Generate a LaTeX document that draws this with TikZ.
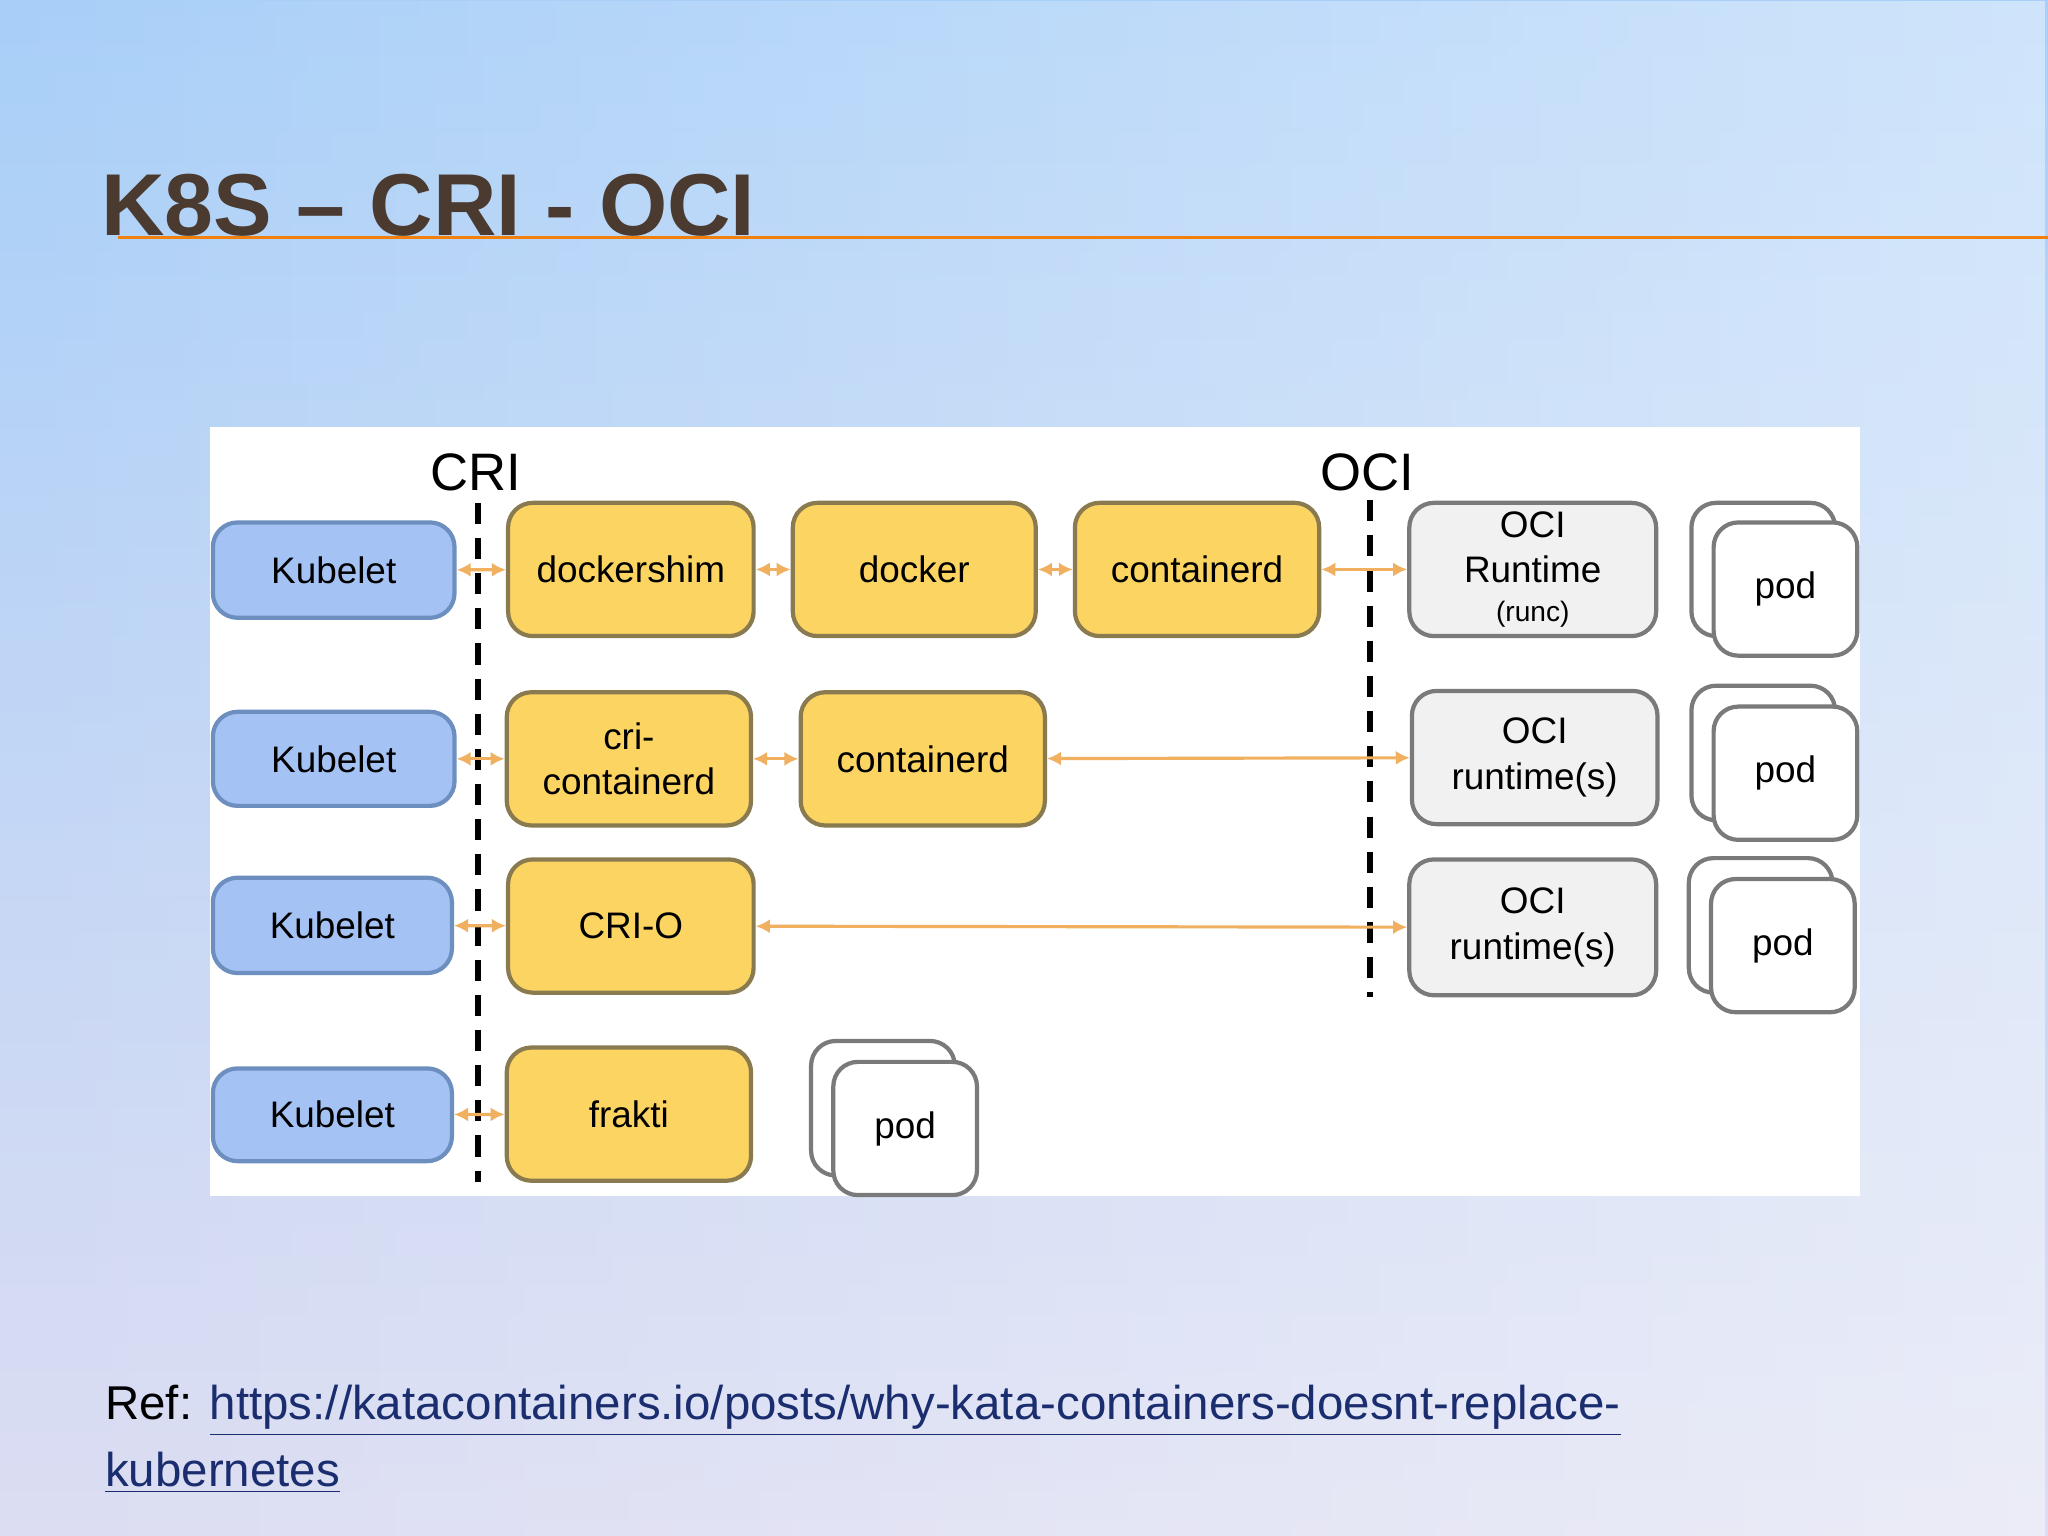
\documentclass[tikz,border=0pt]{standalone}
\usepackage{fontspec}
\setmainfont{Liberation Sans}
\usetikzlibrary{arrows.meta,fadings}
\definecolor{kblue}{HTML}{A4C2F4}
\definecolor{kblueb}{HTML}{6D8FBF}
\definecolor{kyel}{HTML}{FCD462}
\definecolor{kyelb}{HTML}{8A7A50}
\definecolor{kgray}{HTML}{F1F1F1}
\definecolor{kgrayb}{HTML}{7A7A7A}
\definecolor{karrow}{HTML}{F0B060}
\definecolor{ktitle}{HTML}{4A3A30}
\definecolor{klink}{HTML}{1A2D6E}
\definecolor{bgtop}{HTML}{A8CFF8}
\definecolor{bgmid}{HTML}{8CC0FA}
\definecolor{bgbot}{HTML}{DCDDF2}
\begin{document}
\begin{tikzpicture}[x=0.013061cm, y=-0.013061cm,
  box/.style={draw, line width=1.2pt, rounded corners=7pt, align=center,
    inner sep=0pt, font=\fontsize{10.5}{13}\selectfont},
  kub/.style={box, fill=kblue, draw=kblueb},
  yel/.style={box, fill=kyel, draw=kyelb},
  gry/.style={box, fill=kgray, draw=kgrayb},
  podb/.style={box, fill=white, draw=kgrayb},
  link/.style={draw=karrow, line width=0.9pt, {Latex[length=4pt,width=4pt]}-{Latex[length=4pt,width=4pt]}},
  sep/.style={line width=1.6pt, dash pattern=on 6pt off 4pt}]
\useasboundingbox (0,0) rectangle (1568,1176);
\shade[top color=bgtop, middle color=bgmid, bottom color=bgbot] (0,0) rectangle (1568,1176);
\fill[white, opacity=0.45, path fading=west] (0,0) rectangle (1568,1176);
% title
\node[anchor=base west, text=ktitle, font=\bfseries\fontsize{25}{30}\selectfont] (title) at (68,180) {K8S -- CRI - OCI};
\draw[draw=orange!80!brown, line width=0.8pt] (90,182) -- (1568,182);
% panel
\fill[white] (161,327) rectangle (1424,916);
\newcommand{\bx}[6]{\node[#1, minimum width={(#4-#3)*0.013061cm}, minimum height={(#6-#5)*0.013061cm}] (#2) at ({(#3+#4)/2},{(#5+#6)/2})}
% kubelets
\bx{kub}{k1}{163}{348}{400}{473} {Kubelet};
\bx{kub}{k2}{163}{348}{545}{617} {Kubelet};
\bx{kub}{k3}{163}{346}{672}{745} {Kubelet};
\bx{kub}{k4}{163}{346}{818}{889} {Kubelet};
% yellow
\bx{yel}{ds}{389}{577}{385}{487} {dockershim};
\bx{yel}{dk}{607}{793}{385}{487} {docker};
\bx{yel}{ct1}{823}{1010}{385}{487} {containerd};
\bx{yel}{cc}{388}{575}{530}{632} {cri-\\containerd};
\bx{yel}{ct2}{613}{800}{530}{632} {containerd};
\bx{yel}{crio}{389}{577}{658}{760} {CRI-O};
\bx{yel}{fr}{388}{575}{802}{904} {frakti};
% oci runtimes
\bx{gry}{o1}{1079}{1268}{385}{487} {OCI\\Runtime\\[-2pt]{\fontsize{8}{9}\selectfont (runc)}};
\bx{gry}{o2}{1081}{1269}{529}{631} {OCI\\runtime(s)};
\bx{gry}{o3}{1079}{1268}{658}{762} {OCI\\runtime(s)};
% pods
\bx{podb}{p1b}{1295}{1405}{385}{487} {};
\bx{podb}{p1}{1312}{1422}{400}{502} {pod};
\bx{podb}{p2b}{1295}{1405}{525}{628} {};
\bx{podb}{p2}{1312}{1422}{541}{643} {pod};
\bx{podb}{p3b}{1293}{1403}{657}{760} {};
\bx{podb}{p3}{1310}{1420}{673}{775} {pod};
\bx{podb}{p4b}{621}{731}{797}{900} {};
\bx{podb}{p4}{638}{748}{813}{915} {pod};
% interfaces
\coordinate (cri1) at (366,385); \coordinate (cri2) at (366,905);
\coordinate (oci1) at (1049,383); \coordinate (oci2) at (1049,763);
\draw[sep] (cri1) -- (cri2);
\draw[sep] (oci1) -- (oci2);
\node[font=\fontsize{15}{17}\selectfont] (cril) at (364,362) {CRI};
\node[font=\fontsize{15}{17}\selectfont] (ocil) at (1047,362) {OCI};
% links
\draw[link] (k1) -- (ds);
\draw[link] (ds) -- (dk);
\draw[link] (dk) -- (ct1);
\draw[link] (ct1) -- (o1);
\draw[link] (k2) -- (cc);
\draw[link] (cc) -- (ct2);
\draw[link] (ct2) -- (o2);
\draw[link] (k3) -- (crio);
\draw[link] (crio) -- (o3);
\draw[link] (k4) -- (fr);
% reference
\node[anchor=north west, align=left, inner sep=0pt, font=\fontsize{13.5}{19}\selectfont] (ref) at (80,1060)
  {Ref: \textcolor{klink}{\underline{https://katacontainers.io/posts/why-kata-containers-doesnt-replace-}}\\\textcolor{klink}{\underline{kubernetes}}};
\end{tikzpicture}
\end{document}
